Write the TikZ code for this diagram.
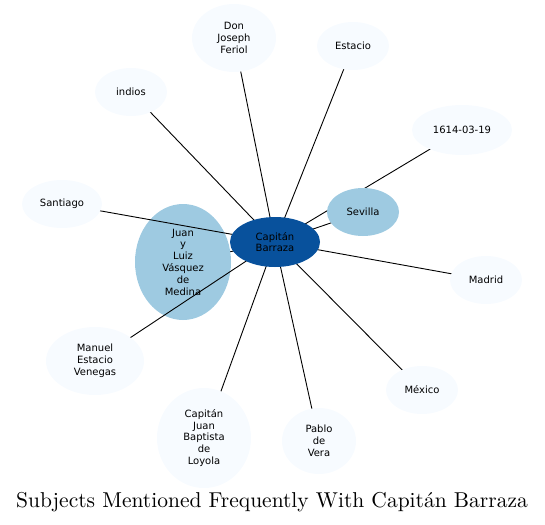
\documentclass[tikz,border=0pt]{standalone}
\usepackage{fontspec}
\newfontfamily\labelfont{DejaVu Sans}
\newfontfamily\titlefont{lmroman10-regular}[Extension=.otf]
\usepackage{tikz}
\usetikzlibrary{
    shapes.geometric,
    backgrounds
}
\definecolor{hubblue}{HTML}{08519C}
\definecolor{midblue}{HTML}{9ECAE1}
\definecolor{paleblue}{HTML}{F7FBFF}
\tikzstyle{subject} = [
    ellipse,
    inner sep=0pt,
    fill=paleblue,
    align=center,
    font=\labelfont\fontsize{10}{11.8}\selectfont
]
\tikzstyle{hub} = [
    subject,
    fill=hubblue
]
\tikzstyle{near} = [
    subject,
    fill=midblue
]
\tikzstyle{link} = [
    draw=black,
    line width=0.9pt
]

\begin{document}
\begin{tikzpicture}[x=1pt, y=-1pt]
        \useasboundingbox (0,0) rectangle (545,524);

        % Central subject
        \node[hub, minimum width=90pt, minimum height=50pt] (barraza) at (275,242) {Capitán\\Barraza};

        % Close subjects
        \node[near, minimum width=72pt, minimum height=48pt] (sevilla) at (363,212) {Sevilla};

        % Other subjects
        \node[subject, minimum width=84pt, minimum height=68pt] (feriol) at (234,38) {Don\\Joseph\\Feriol};
        \node[subject, minimum width=72pt, minimum height=48pt] (estacio) at (353,46) {Estacio};
        \node[subject, minimum width=72pt, minimum height=48pt] (indios) at (131,92) {indios};
        \node[subject, minimum width=100pt, minimum height=50pt] (date) at (462,130) {1614-03-19};
        \node[subject, minimum width=80pt, minimum height=48pt] (santiago) at (62,204) {Santiago};
        \node[subject, minimum width=72pt, minimum height=48pt] (madrid) at (486,280) {Madrid};
        \node[subject, minimum width=98pt, minimum height=68pt] (venegas) at (95,361) {Manuel\\Estacio\\Venegas};
        \node[subject, minimum width=72pt, minimum height=48pt] (mexico) at (422,390) {México};
        \node[subject, minimum width=94pt, minimum height=100pt] (loyola) at (204,438) {Capitán\\Juan\\Baptista\\de\\Loyola};
        \node[subject, minimum width=74pt, minimum height=66pt] (vera) at (319,441) {Pablo\\de\\Vera};

        % Links (below the nodes)
        \begin{pgfonlayer}{background}
            \coordinate (medinaspot) at (183,262);
            \draw[link] (barraza.center) -- (medinaspot);
            \node[near, minimum width=96pt, minimum height=116pt] (medina) at (medinaspot) {Juan\\y\\Luiz\\Vásquez\\de\\Medina};
            \foreach \other in {sevilla, feriol, estacio, indios, date, santiago, madrid, venegas, mexico, loyola, vera}
                \draw[link] (barraza.center) -- (\other.center);
        \end{pgfonlayer}

        % Title
        \node[font=\titlefont\fontsize{21.5}{25}\selectfont] (title) at (272,502) {Subjects Mentioned Frequently With Capitán Barraza};
    \end{tikzpicture}
\end{document}
